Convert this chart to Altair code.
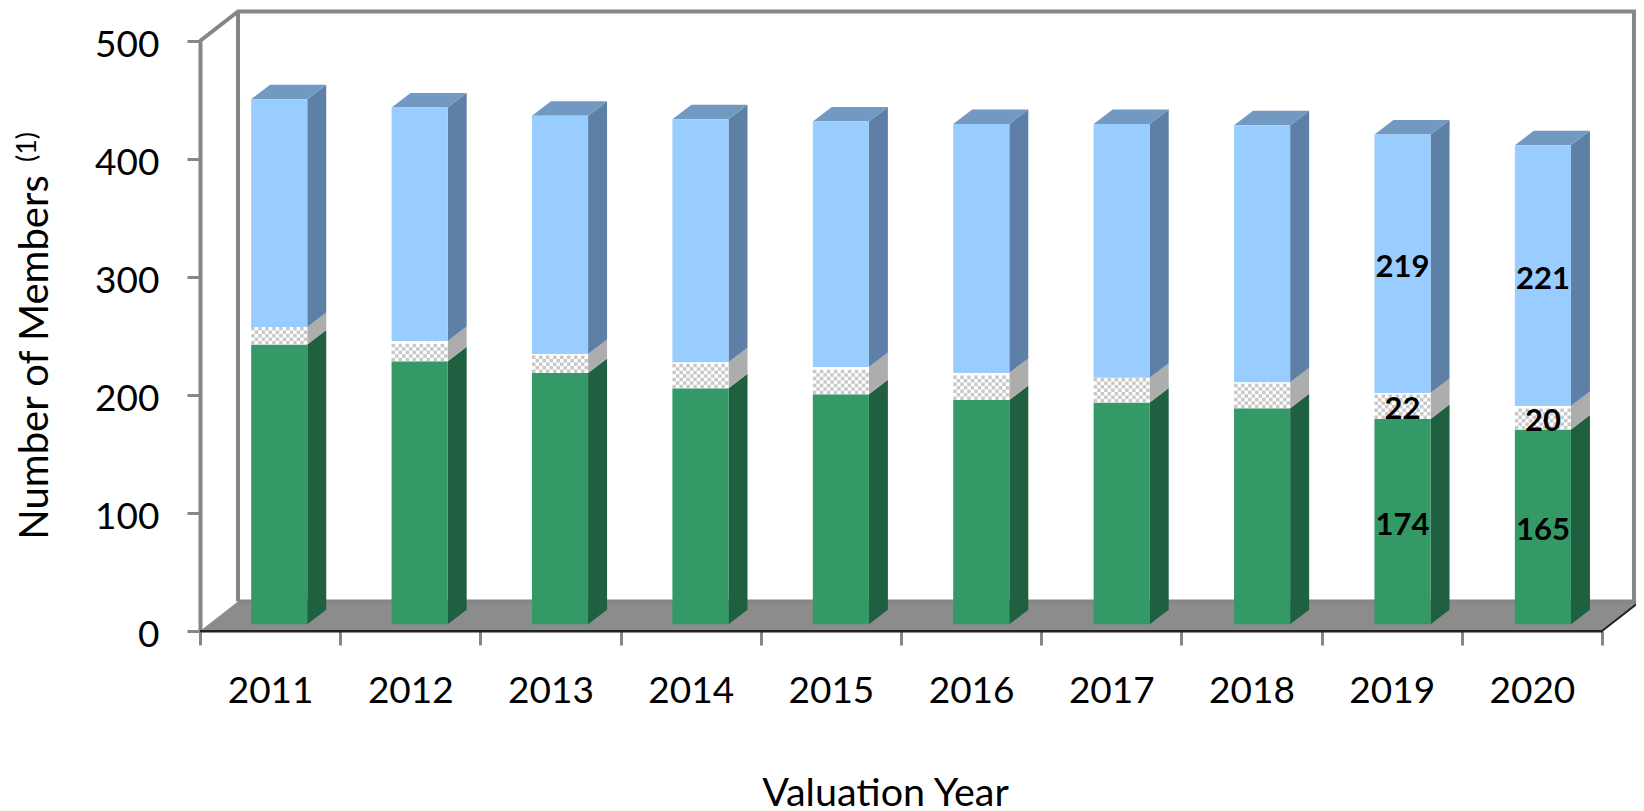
import altair as alt
import pandas as pd

years = [2011, 2012, 2013, 2014, 2015, 2016, 2017, 2018, 2019, 2020]
green = [237, 223, 213, 200, 195, 190, 188, 183, 174, 165]
hatched = [15, 17, 16, 22, 23, 23, 21, 22, 22, 20]
blue = [193, 198, 202, 206, 208, 211, 215, 218, 219, 221]
labelled_years = [2019, 2020]

FONT = "Lato"
GRAY = "#868686"
FRONT = {"green": "#339966", "hatched": "#ffffff", "blue": "#99ccff"}
SIDE = {"green": "#1f6040", "hatched": "#adadad", "blue": "#5f80a6"}
TOP_FACE = "#7299c1"
FLOOR = "#8c8c8c"

PX_X = 140.2          # pixels per category
PX_Y = 1.18           # pixels per member
BAR_L, BAR_W = 0.365, 0.40
PITCH = 1.0015
BASE = 5.7            # depth offset of the bars, in members
DDX, DDY = 19 / PX_X, 14.5 / PX_Y
ROOM_X, ROOM_Y = 38 / PX_X, 25.0
ROOM_TOP = 500 + ROOM_Y
RIGHT_WALL = 10.228   # kept just inside the page's right edge

sx = alt.Scale(domain=[0, 10], nice=False, zero=False)
sy = alt.Scale(domain=[0, 500], nice=False, zero=False)
y_axis = alt.Axis(
    values=[0, 100, 200, 300, 400, 500], title="Number of Members",
    titleFont=FONT, titleFontSize=40, titleFontWeight="normal", titleColor="#000000",
    titleX=-165, titleY=316, titleAngle=270, titleBaseline="middle", titleAnchor="middle",
    labelFont=FONT, labelFontSize=37, labelColor="#000000", labelPadding=28, labelOffset=4,
    tickSize=13, tickWidth=3, tickColor=GRAY,
    domainColor=GRAY, domainWidth=4, grid=False)
X = lambda f: alt.X(f, type="quantitative", scale=sx, axis=None)
Y = lambda f: alt.Y(f, type="quantitative", scale=sy, axis=y_axis)

front, side, top, rows, labels = [], [], [], [], []
CELL = 3.5
ROW = CELL / PX_Y
for i, y in enumerate(years):
    x0, x1 = i * PITCH + BAR_L, i * PITCH + BAR_L + BAR_W
    b = BASE
    for name, v in (("green", green[i]), ("hatched", hatched[i]), ("blue", blue[i])):
        t = b + v
        front.append(dict(x0=x0, x1=x1, b=b, t=t, seg=name))
        key = f"{y}-{name}"
        side.append(dict(key=key, seg=name, x=x1, b=b, t=t))
        side.append(dict(key=key, seg=name, x=x1 + DDX, b=b + DDY, t=t + DDY))
        if name == "hatched":
            n = int(v / ROW)
            for r in range(n):
                rows.append(dict(x0=x0, x1=x1, y=b + (r + 0.5) * ROW, odd=r % 2))
        if y in labelled_years:
            labels.append(dict(x=(x0 + x1) / 2, y=(b + t) / 2, text=str(v)))
        b = t
    top.append(dict(key=y, y=b, x0=x0, x1=x1))
    top.append(dict(key=y, y=b + DDY, x0=x0 + DDX, x1=x1 + DDX))

front = pd.DataFrame(front)
side = pd.DataFrame(side)
top = pd.DataFrame(top)
rows = pd.DataFrame(rows)
labels = pd.DataFrame(labels)

floor = pd.DataFrame([
    dict(y=0, x0=0, x1=10),
    dict(y=ROOM_Y, x0=ROOM_X, x1=10 + ROOM_X),
])
walls = pd.DataFrame([
    dict(s="back", o=0, x=ROOM_X, y=ROOM_Y),
    dict(s="back", o=1, x=ROOM_X, y=ROOM_TOP),
    dict(s="top", o=0, x=0, y=500),
    dict(s="top", o=1, x=ROOM_X, y=ROOM_TOP),
    dict(s="top", o=2, x=10.4, y=ROOM_TOP),
    dict(s="right", o=0, x=RIGHT_WALL, y=ROOM_TOP),
    dict(s="right", o=1, x=RIGHT_WALL, y=ROOM_Y),
    dict(s="floorback", o=0, x=ROOM_X, y=ROOM_Y),
    dict(s="floorback", o=1, x=10 + ROOM_X, y=ROOM_Y),
])
edge = pd.DataFrame([
    dict(o=0, x=0, y=0),
    dict(o=1, x=10, y=0),
    dict(o=2, x=10 + ROOM_X, y=ROOM_Y),
])

# Category axis on a band scale of its own: ticks on the band edges, labels centred
x_axis = alt.Chart(pd.DataFrame({"year": [str(y) for y in years], "v": [0] * len(years)})).mark_point(opacity=0).encode(
    x=alt.X("year:N",
            scale=alt.Scale(paddingInner=0, paddingOuter=0),
            axis=alt.Axis(
                orient="bottom", title="Valuation Year", tickBand="extent", labelAngle=0,
                titleFont=FONT, titleFontSize=39.5, titleFontWeight="normal", titleColor="#000000",
                titleX=685, titleY=143, titleAnchor="middle",
                labelFont=FONT, labelFontSize=37, labelColor="#000000", labelPadding=28,
                tickSize=14, tickWidth=3, tickColor=GRAY,
                domainColor="#222222", domainWidth=2)),
    y=Y("v"),
)

floor_l = alt.Chart(floor).mark_area(orient="horizontal", color=FLOOR).encode(
    y=Y("y"), x=X("x0"), x2="x1")

wall_l = alt.Chart(walls).mark_line(color=GRAY, strokeWidth=4).encode(
    x=X("x"), y=Y("y"), detail="s:N", order="o:Q")

edge_l = alt.Chart(edge).mark_line(color="#222222", strokeWidth=2).encode(
    x=X("x"), y=Y("y"), order="o:Q")

seg_domain = ["green", "hatched", "blue"]
front_l = alt.Chart(front).mark_rect().encode(
    x=X("x0"), x2="x1", y=Y("b"), y2="t",
    color=alt.Color("seg:N", scale=alt.Scale(domain=seg_domain, range=[FRONT[k] for k in seg_domain]), legend=None))

side_l = alt.Chart(side).mark_area(orient="vertical").encode(
    x=X("x"), y=Y("b"), y2="t", detail="key:N",
    color=alt.Color("seg:N", scale=alt.Scale(domain=seg_domain, range=[SIDE[k] for k in seg_domain]), legend=None))

top_l = alt.Chart(top).mark_area(orient="horizontal", color=TOP_FACE).encode(
    y=Y("y"), x=X("x0"), x2="x1", detail="key:N")

def checker(odd, offset):
    return alt.Chart(rows[rows.odd == odd]).mark_rule(
        color="#c8c8c8", strokeWidth=CELL, strokeDash=[CELL, CELL], strokeDashOffset=offset).encode(
        x=X("x0"), x2="x1", y=Y("y"))

label_l = alt.Chart(labels).mark_text(font=FONT, fontSize=31, fontWeight="bold", color="#000000", dy=4).encode(
    x=X("x"), y=Y("y"), text="text:N")

note = alt.Chart(pd.DataFrame({"t": ["(1)"]})).mark_text(
    font=FONT, fontSize=27, angle=270, color="#000000").encode(
    x=alt.value(-172), y=alt.value(106), text="t:N")

chart = alt.layer(
    x_axis, floor_l, wall_l, edge_l, side_l, top_l, front_l,
    checker(0, 0), checker(1, CELL), label_l, note,
).resolve_scale(x="independent", color="independent").properties(
    width=1402, height=590,
    padding={"left": 192, "top": 33, "right": 34, "bottom": 178},
    autosize=alt.AutoSizeParams(type="none"),
    background="#ffffff",
).configure_view(stroke=None)

chart.save("out.html", embed_options={"renderer": "svg", "actions": False})
